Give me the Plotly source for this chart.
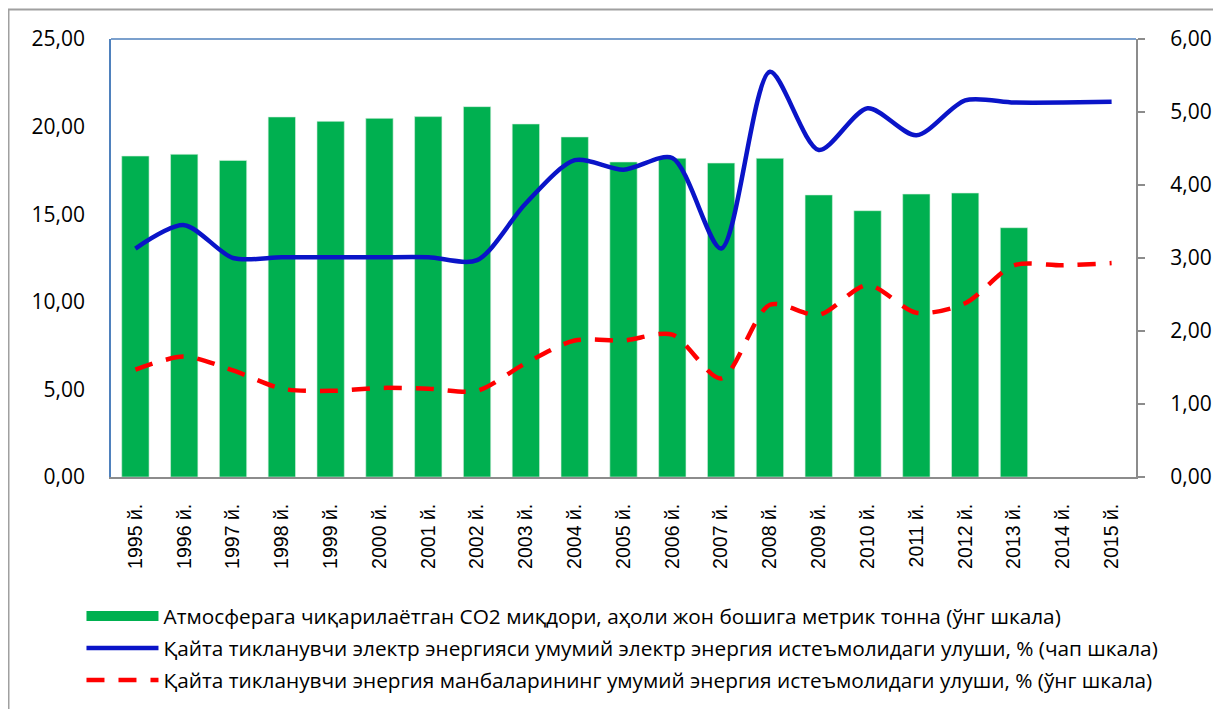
import plotly.graph_objects as go

years = ["1995 й.", "1996 й.", "1997 й.", "1998 й.", "1999 й.", "2000 й.", "2001 й.",
         "2002 й.", "2003 й.", "2004 й.", "2005 й.", "2006 й.", "2007 й.", "2008 й.",
         "2009 й.", "2010 й.", "2011 й.", "2012 й.", "2013 й.", "2014 й.", "2015 й."]

co2_per_capita = [18.32, 18.42, 18.07, 20.55, 20.30, 20.47, 20.57, 21.14, 20.15, 19.41,
                  17.98, 18.19, 17.92, 18.19, 16.10, 15.20, 16.15, 16.21, 14.23, None, None]

renew_electricity = [3.13, 3.45, 3.00, 3.01, 3.01, 3.01, 3.01, 2.97, 3.75, 4.34,
                     4.21, 4.37, 3.13, 5.55, 4.48, 5.05, 4.68, 5.16, 5.13, 5.13, 5.14]

renew_energy = [1.47, 1.65, 1.46, 1.21, 1.18, 1.22, 1.21, 1.18, 1.56, 1.87,
                1.87, 1.95, 1.35, 2.36, 2.22, 2.63, 2.25, 2.38, 2.90, 2.90, 2.93]

names = [
    "Атмосферага чиқарилаётган CO2 миқдори, аҳоли жон бошига метрик тонна (ўнг шкала)",
    "Қайта тикланувчи электр энергияси умумий электр энергия истеъмолидаги улуши, % (чап шкала)",
    "Қайта тикланувчи энергия манбаларининг умумий энергия истеъмолидаги улуши, % (ўнг шкала)",
]

GREEN, BLUE, RED = "#00B050", "#0A14C8", "#FF0000"

fig = go.Figure()
fig.add_trace(go.Bar(x=years, y=co2_per_capita, name=names[0], showlegend=False,
                     marker=dict(color=GREEN, line=dict(color="#D8F0E0", width=0.6)),
                     width=0.56))
# legend entry for the bars: wide green rectangle like Excel
fig.add_trace(go.Scatter(x=[years[0]], y=[None], name=names[0], legendgroup="a",
                         mode="lines", line=dict(color=GREEN, width=14)))
fig.add_trace(go.Scatter(x=years, y=renew_electricity, name=names[1], legendgroup="b",
                         yaxis="y2", mode="lines",
                         line=dict(color=BLUE, width=4.5, shape="spline", smoothing=0.8)))
fig.add_trace(go.Scatter(x=years, y=renew_energy, name=names[2], legendgroup="c",
                         yaxis="y2", mode="lines",
                         line=dict(color=RED, width=4.5, shape="spline", smoothing=0.8,
                                   dash="18px,14px")))

# page body has an 8px margin; figure is a bit taller than the window so the legend fits
W, H = 1205, 720
L, R, T, B = 103, 77, 31, 251
pw, ph = W - L - R, H - T - B

fig.update_layout(
    width=W, height=H,
    margin=dict(l=L, r=R, t=T, b=B),
    plot_bgcolor="white", paper_bgcolor="white",
    separators=", ",
    showlegend=True,
    font=dict(family="Liberation Sans, Arial", color="black"),
    xaxis=dict(showgrid=False, showline=True, linecolor="#8C8C8C", linewidth=2,
               ticks="", tickangle=-90, tickfont=dict(size=19.5, family="Liberation Sans"),
               ticklabelstandoff=17, automargin=False),
    yaxis=dict(range=[0, 25], tickvals=[0, 5, 10, 15, 20, 25], tickformat=".2f",
               showgrid=False, zeroline=False, showline=True, linecolor="#4F81BD",
               linewidth=1.5, ticks="", ticklabelstandoff=20, automargin=False,
               tickfont=dict(size=21, family="Open Sans")),
    yaxis2=dict(range=[0, 6], tickvals=[0, 1, 2, 3, 4, 5, 6], tickformat=".2f",
                overlaying="y", side="right", showgrid=False, zeroline=False,
                showline=True, linecolor="#8C8C8C", linewidth=2, ticks="outside",
                ticklen=7, tickcolor="#8C8C8C", tickwidth=2, ticklabelstandoff=21,
                automargin=False, tickfont=dict(size=21, family="Open Sans")),
    legend=dict(orientation="v", x=-0.0288, xanchor="left", y=-0.2717, yanchor="top",
                font=dict(size=20.8, family="Open Sans"), tracegroupgap=2,
                itemwidth=72, bgcolor="rgba(0,0,0,0)"),
    shapes=[
        # blue plot-area top border
        dict(type="line", xref="paper", yref="paper", x0=0, x1=1, y0=1, y1=1,
             line=dict(color="#4F81BD", width=1.5)),
        # outer chart frame
        dict(type="line", xref="paper", yref="paper",
             x0=(0 - L) / pw, x1=(W - L) / pw, y0=(H - B - 1.5) / ph, y1=(H - B - 1.5) / ph,
             line=dict(color="#A0A0A0", width=2)),
        dict(type="line", xref="paper", yref="paper",
             x0=(0 - L) / pw, x1=(0 - L) / pw, y0=(H - B - 1) / ph, y1=-B / ph,
             line=dict(color="#A0A0A0", width=3)),
    ],
)

fig.write_html("out.html")
